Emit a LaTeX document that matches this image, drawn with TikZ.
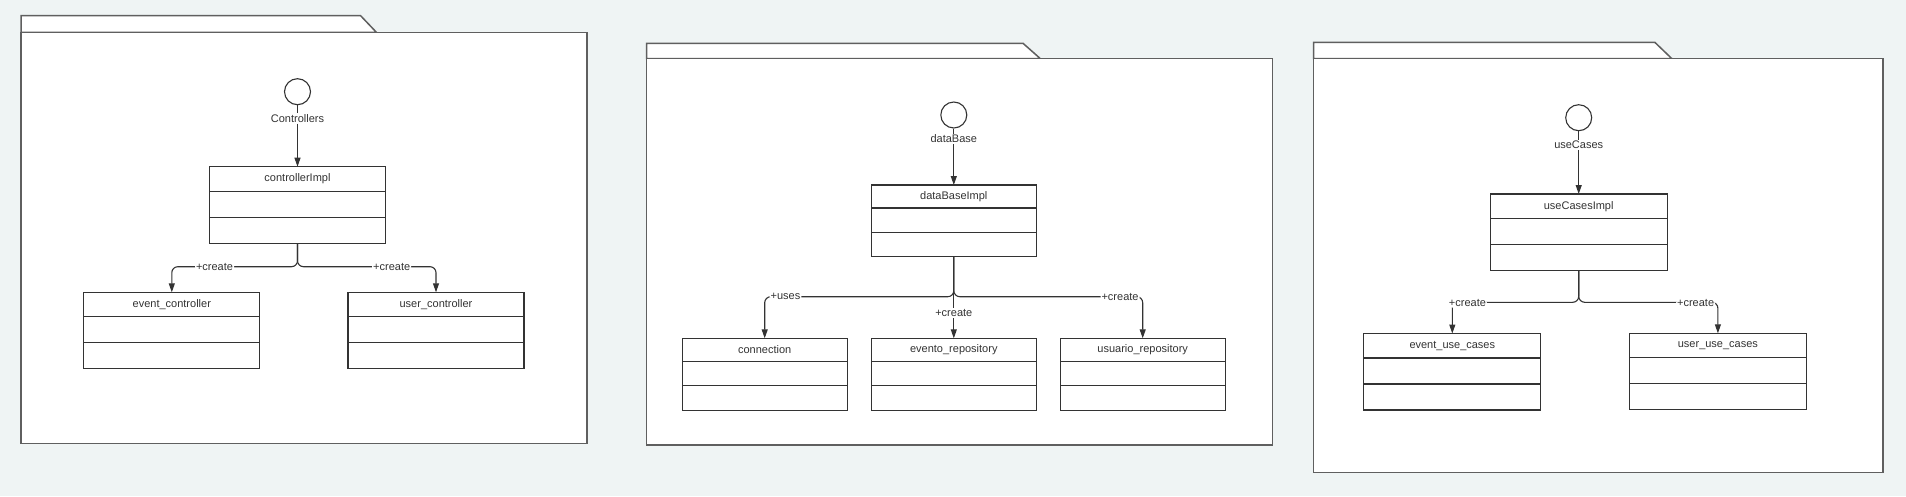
\documentclass[tikz,border=0pt]{standalone}
\usepackage{fontspec}
\setmainfont{Liberation Sans}
\usepackage{xcolor}
\usepackage{tikz}
\usetikzlibrary{arrows.meta, positioning}

\definecolor{bggray}{HTML}{EFF4F4}
\definecolor{ink}{HTML}{333333}
\definecolor{frame}{HTML}{5F5F5F}

\begin{document}
\begin{tikzpicture}[x=1pt, y=-1pt, font=\fontsize{11}{13}\selectfont, text=ink,
    pkg/.style={draw=frame, line width=1.5pt, fill=white},
    hd/.style={draw=ink, line width=1.1pt, fill=white, minimum height=24.5pt,
      inner sep=0pt, outer sep=0pt, anchor=north},
    row/.style={draw=ink, line width=1.1pt, fill=white, minimum height=26pt,
      inner sep=0pt, outer sep=0pt, below=0pt of #1},
    iface/.style={circle, draw=ink, line width=1.1pt, fill=white, minimum size=26pt, inner sep=0pt},
    lbl/.style={fill=white, inner sep=1pt},
    wire/.style={draw=ink, line width=1.1pt},
    arr/.style={wire, -{Triangle[length=9pt,width=6pt]}}]

  % background
  \fill[bggray] (0,0) rectangle (1906,496);

  % package frames
  \draw[pkg] (21,32.3) -- (21,15.7) -- (360.6,15.7) -- (376.4,32.3) -- cycle;
  \draw[pkg] (21,32.3) rectangle (587,443.3);
  \draw[pkg] (646.6,58.7) -- (646.6,43.3) -- (1023,43.3) -- (1040.4,58.7) -- cycle;
  \draw[pkg] (646.6,58.7) rectangle (1272.6,445);
  \draw[pkg] (1313.5,58.7) -- (1313.5,42.3) -- (1654.8,42.3) -- (1671.9,58.7) -- cycle;
  \draw[pkg] (1313.5,58.7) rectangle (1882.9,472.7);

  % controllers
  \begin{scope}[hd/.append style={minimum width=176pt}, row/.append style={minimum width=176pt}]
    \node[iface] (ctrl) at (297.5,91.7) {};
    \node[lbl] (ctrlname) at (297.5,118.3) {Controllers};
    \node[hd] (cimpl) at (297.5,166.7) {controllerImpl};
    \node[row=cimpl] (cimpl2) {};
    \node[row=cimpl2] (cimpl3) {};
    \node[hd] (evc) at (171.8,292.3) {event\_controller};
    \node[row=evc] (evc2) {};
    \node[row=evc2] (evc3) {};
    \node[hd] (usc) at (436,292.3) {user\_controller};
    \node[row=usc] (usc2) {};
    \node[row=usc2] (usc3) {};
    \coordinate (cfork) at (297.5,266.7);
  \end{scope}
  \draw[wire] (ctrl) -- (ctrlname);
  \draw[arr] (ctrlname) -- (cimpl);
  \draw[arr, rounded corners=6pt] (cimpl3.south) -- (cfork) -| node[lbl, pos=0.33] {+create} (evc.north);
  \draw[arr, rounded corners=6pt] (cimpl3.south) -- (cfork) -| node[lbl, pos=0.34] {+create} (usc.north);

  % dataBase
  \begin{scope}[hd/.append style={minimum width=165pt, minimum height=23pt},
      row/.append style={minimum width=165pt, minimum height=24.4pt}]
    \node[iface] (dbase) at (953.8,115) {};
    \node[lbl] (dbasename) at (953.8,139) {dataBase};
    \node[hd] (dimpl) at (953.8,185) {dataBaseImpl};
    \node[row=dimpl] (dimpl2) {};
    \node[row=dimpl2] (dimpl3) {};
    \node[hd] (conn) at (764.7,338.3) {connection};
    \node[row=conn] (conn2) {};
    \node[row=conn2] (conn3) {};
    \node[hd] (evr) at (953.8,338.3) {evento\_repository};
    \node[row=evr] (evr2) {};
    \node[row=evr2] (evr3) {};
    \node[hd] (usr) at (1142.7,338.3) {usuario\_repository};
    \node[row=usr] (usr2) {};
    \node[row=usr2] (usr3) {};
    \coordinate (dfork) at (953.8,296.7);
  \end{scope}
  \draw[wire] (dbase) -- (dbasename);
  \draw[arr] (dbasename) -- (dimpl);
  \draw[arr, rounded corners=6pt] (dimpl3.south) -- (dfork) -| node[lbl, pos=0.445] {+uses} (conn.north);
  \draw[arr] (dimpl3.south) -- node[lbl, pos=0.69] {+create} (evr.north);
  \draw[arr, rounded corners=6pt] (dimpl3.south) -- (dfork) -| node[lbl, pos=0.44] {+create} (usr.north);

  % useCases
  \begin{scope}[hd/.append style={minimum width=177pt}, row/.append style={minimum width=177pt}]
    \node[iface] (ucase) at (1578.7,117.7) {};
    \node[lbl] (ucasename) at (1578.7,145) {useCases};
    \node[hd] (uimpl) at (1578.7,194) {useCasesImpl};
    \node[row=uimpl] (uimpl2) {};
    \node[row=uimpl2] (uimpl3) {};
    \node[hd] (euc) at (1452.3,333.5) {event\_use\_cases};
    \node[row=euc] (euc2) {};
    \node[row=euc2] (euc3) {};
    \node[hd] (uuc) at (1717.9,333.3) {user\_use\_cases};
    \node[row=uuc] (uuc2) {};
    \node[row=uuc2] (uuc3) {};
    \coordinate (ufork) at (1578.7,302.3);
  \end{scope}
  \draw[wire] (ucase) -- (ucasename);
  \draw[arr] (ucasename) -- (uimpl);
  \draw[arr, rounded corners=6pt] (uimpl3.south) -- (ufork) -| node[lbl, pos=0.44, yshift=-1pt] {+create} (euc.north);
  \draw[arr, rounded corners=6pt] (uimpl3.south) -- (ufork) -| node[lbl, pos=0.42, yshift=-1pt] {+create} (uuc.north);
\end{tikzpicture}
\end{document}
